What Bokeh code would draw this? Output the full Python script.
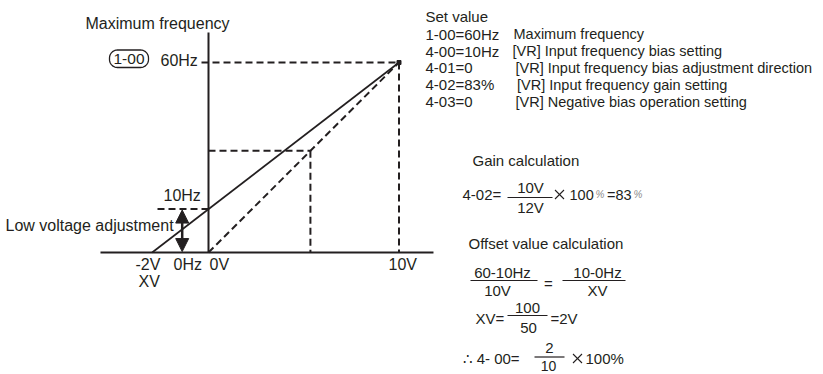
import math
from bokeh.plotting import figure
from bokeh.models import Range1d, Arrow, NormalHead
from bokeh.core.properties import value
from bokeh.embed import file_html
from bokeh.resources import INLINE

# ---------------- data (volts / hertz of the schematic) ----------------
max_freq_hz = 60          # 1-00
full_scale_v = 10         # 10 V input
bias_level = 13.7         # schematic height of the 10 Hz bias mark
example_v = 5.35          # schematic example point on the plain line
v_axis_top = 69.5         # vertical axis extent (Hz units)
h_axis_span = [-5.67, 11.81]  # horizontal axis extent (V units)

x_tick_labels = ["-2V", "0Hz", "0V", "10V"]
freq_labels = ["60Hz", "10Hz"]

param_codes = ["1-00=60Hz", "4-00=10Hz", "4-01=0", "4-02=83%", "4-03=0"]
param_desc = ["Maximum frequency",
              "[VR] Input frequency bias setting",
              "[VR] Input frequency bias adjustment direction",
              "[VR] Input frequency gain setting",
              "[VR] Negative bias operation setting"]

# ---------------- layout helpers (picture pixels -> V / Hz) ----------------
W, H = 823, 374
XPX0, XSCALE = 208.0, 19.05
YPX0, YSCALE = 252.0, 190.0 / 60.0


def X(px):
    return (px - XPX0) / XSCALE


def Y(py):
    return (YPX0 - py) / YSCALE


INK = "#231f20"
FONT = value("Liberation Sans")

p = figure(width=W, height=H, output_backend="svg", toolbar_location=None,
           x_range=Range1d(X(0), X(W)), y_range=Range1d(Y(H), Y(0)),
           min_border=0, background_fill_color="white", border_fill_color="white")
p.outline_line_color = None
p.axis.visible = False
p.grid.visible = False

# axes of the diagram
p.segment(x0=[h_axis_span[0], 0], y0=[0, 0], x1=[h_axis_span[1], 0], y1=[0, v_axis_top],
          line_color=INK, line_width=2)

# solid bias line: from x-intercept through (0, bias) to (10 V, max)
slope = (max_freq_hz - bias_level) / full_scale_v
x_int = -bias_level / slope
p.line(x=[x_int, full_scale_v], y=[0, max_freq_hz], line_color=INK, line_width=1.7)

# dashed plain line 0 V -> 10 V
p.line(x=[0, full_scale_v], y=[0, max_freq_hz], line_color=INK, line_width=2,
       line_dash="7 4")
ex_hz = max_freq_hz * example_v / full_scale_v

# dashed guides
dash = dict(line_color=INK, line_width=2, line_dash="7 4")
p.segment(x0=[X(201)], y0=[max_freq_hz], x1=[full_scale_v], y1=[max_freq_hz], **dash)
p.segment(x0=[full_scale_v], y0=[max_freq_hz], x1=[full_scale_v], y1=[0], **dash)
p.segment(x0=[0], y0=[ex_hz], x1=[example_v], y1=[ex_hz], **dash)
p.segment(x0=[example_v], y0=[ex_hz], x1=[example_v], y1=[0], **dash)
p.segment(x0=[X(157)], y0=[bias_level], x1=[0], y1=[bias_level], **dash)
p.scatter(x=[full_scale_v], y=[max_freq_hz], marker="square", size=4, color=INK)

# double-headed arrow (low voltage adjustment)
ax = X(181.7)
p.add_layout(Arrow(start=NormalHead(size=13, fill_color=INK, line_color=INK),
                   end=NormalHead(size=13, fill_color=INK, line_color=INK),
                   x_start=ax, y_start=bias_level - 0.3, x_end=ax, y_end=0.3,
                   line_color=INK, line_width=2.5))


def txt(px, cy, s, size=15, align="left", color=INK, style="normal"):
    p.text(x=[X(px)], y=[Y(cy)], text=[s], text_font=FONT,
           text_font_size=f"{size}px", text_align=align, text_baseline="middle",
           text_color=color, text_font_style=style)


def times_sign(px, cy, half=4.5):
    # thin multiplication cross drawn as two strokes
    p.segment(x0=[X(px - half), X(px - half)], y0=[Y(cy - half), Y(cy + half)],
              x1=[X(px + half), X(px + half)], y1=[Y(cy + half), Y(cy - half)],
              line_color=INK, line_width=1.1)


# rounded box around 1-00 (built in picture pixels)
bx0, bx1, by0, by1, r = 109, 148, 49.5, 67, 8
xs, ys = [], []
for cx, cy, a0 in [(bx1 - r, by0 + r, -90), (bx1 - r, by1 - r, 0),
                   (bx0 + r, by1 - r, 90), (bx0 + r, by0 + r, 180)]:
    for k in range(10):
        a = math.radians(a0 + 90 * k / 9)
        xs.append(X(cx + r * math.cos(a)))
        ys.append(Y(cy + r * math.sin(a)))
p.patch(x=xs, y=ys, fill_color=None, line_color=INK, line_width=1.3)
txt(128.5, 58.5, "1-00", 15.5, align="center")

# left side labels
txt(85, 23, "Maximum frequency", 16)
txt(160, 60, freq_labels[0], 16)
txt(163, 195, freq_labels[1], 16)
txt(5, 225, "Low voltage adjustment", 16)
txt(135, 264, x_tick_labels[0], 16)
txt(173, 264, x_tick_labels[1], 16)
txt(209, 264, x_tick_labels[2], 16)
txt(388, 264, x_tick_labels[3], 16)
txt(138, 281, "XV", 16)

# set value table
txt(425, 16, "Set value")
rows_cy = [33.5, 50.5, 67, 84, 101]
desc_x = [513, 512, 515, 516.5, 515]
for cy, code, dx, d in zip(rows_cy, param_codes, desc_x, param_desc):
    txt(425, cy, code)
    txt(dx, cy, d, 14.5)

# gain calculation
bar = dict(line_color=INK, line_width=1.2)
txt(472, 160, "Gain calculation")
txt(462, 194, "4-02=")
p.segment(x0=[X(507)], y0=[Y(197)], x1=[X(552)], y1=[Y(197)], **bar)
txt(530, 186.5, "10V", align="center")
txt(530, 206.5, "12V", align="center")
times_sign(559, 194)
txt(569, 194, "100", 14.5)
txt(595, 194, "%", 10, color="#8a8a8a", style="italic")
txt(606.5, 194, "=83", 14.5)
txt(633, 194, "%", 10, color="#8a8a8a", style="italic")

# offset value calculation
txt(468, 243, "Offset value calculation")
txt(502, 272, "60-10Hz", align="center")
p.segment(x0=[X(470)], y0=[Y(280)], x1=[X(537)], y1=[Y(280)], **bar)
txt(497, 290, "10V", align="center")
txt(548, 283, "=", align="center")
txt(597, 272, "10-0Hz", align="center")
p.segment(x0=[X(562)], y0=[Y(280)], x1=[X(625)], y1=[Y(280)], **bar)
txt(597, 290, "XV", align="center")
txt(475, 318, "XV=")
txt(527, 307, "100", align="center")
p.segment(x0=[X(507)], y0=[Y(315)], x1=[X(547)], y1=[Y(315)], **bar)
txt(528, 327, "50", align="center")
txt(550, 318, "=2V")
txt(462, 358, "\u2234 4- 00=")
txt(549, 347.5, "2", align="center")
p.segment(x0=[X(534)], y0=[Y(356.5)], x1=[X(564)], y1=[Y(356.5)], **bar)
txt(548, 365.5, "10", 14, align="center")
times_sign(577, 358)
txt(585, 358, "100%")

open("out.html", "w").write(file_html(p, INLINE))
